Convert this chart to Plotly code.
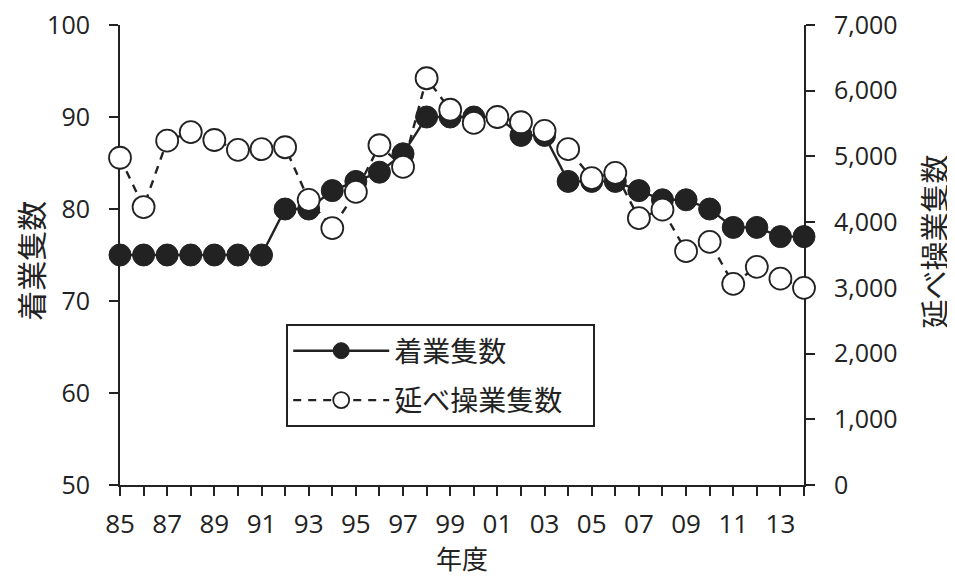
import plotly.graph_objects as go

years = list(range(1985, 2015))
tick_labels = [f"{y % 100:02d}" if (y - 1985) % 2 == 0 else "" for y in years]
operating_vessels = [75, 75, 75, 75, 75, 75, 75, 80, 80, 82, 83, 84, 86, 90, 90,
                     90, 90, 88, 88, 83, 83, 83, 82, 81, 81, 80, 78, 78, 77, 77]
total_operating = [4980, 4230, 5240, 5370, 5250, 5100, 5110, 5140, 4340, 3910,
                   4460, 5170, 4840, 6190, 5710, 5510, 5600, 5520, 5390, 5110,
                   4670, 4750, 4060, 4190, 3560, 3700, 3060, 3320, 3140, 3000]

INK = "#222222"
NUM_FONT = "Open Sans"
JP_FONT = "Noto Sans CJK JP"
PAD = "\u00a0\u00a0\u00a0\u00a0"

fig = go.Figure()
fig.add_trace(go.Scatter(
    x=years, y=operating_vessels, name="着業隻数", mode="lines+markers",
    line=dict(color=INK, width=2.4),
    marker=dict(size=22, color=INK, line=dict(color=INK, width=1)),
    cliponaxis=False, legendgroup="a",
))
fig.add_trace(go.Scatter(
    x=years, y=total_operating, name="延べ操業隻数" + PAD, mode="lines+markers",
    yaxis="y2",
    line=dict(color=INK, width=2.4, dash="8px,7px"),
    marker=dict(size=22, color="white", line=dict(color=INK, width=1.8)),
    cliponaxis=False, legendgroup="b",
))

axis_common = dict(
    showline=True, linecolor=INK, linewidth=2, ticks="outside", ticklen=9,
    tickwidth=2, tickcolor=INK, showgrid=False, zeroline=False,
    layer="below traces", automargin=False, ticklabeloverflow="allow",
)

# the page body adds an 8px margin; the sizes below compensate for it
fig.update_layout(
    width=947, height=569,
    margin=dict(l=112, r=151, t=17, b=92),
    paper_bgcolor="white", plot_bgcolor="white",
    font=dict(family=NUM_FONT, color=INK),
    xaxis=dict(
        range=[1985, 2014], tickmode="array", tickvals=years, ticktext=tick_labels,
        tickfont=dict(size=26, family=NUM_FONT), ticklabelstandoff=6,
        **axis_common,
    ),
    yaxis=dict(
        range=[50, 100], tickmode="linear", tick0=50, dtick=10,
        tickfont=dict(size=25, family=NUM_FONT), ticklabelstandoff=14,
        **axis_common,
    ),
    yaxis2=dict(
        range=[0, 7000], tickmode="linear", tick0=0, dtick=1000,
        tickformat=",", overlaying="y", side="right",
        tickfont=dict(size=25, family=NUM_FONT), ticklabelstandoff=14,
        **axis_common,
    ),
    legend=dict(
        x=0.243, y=0.35, xanchor="left", yanchor="top",
        bordercolor=INK, borderwidth=2, bgcolor="white",
        font=dict(size=28, family=JP_FONT, color=INK),
        itemwidth=96, tracegroupgap=10,
    ),
    showlegend=True,
    annotations=[
        dict(text="着業隻数", xref="paper", yref="paper", x=-0.132, y=0.487,
             xanchor="center", yanchor="middle",
             showarrow=False, textangle=-90, font=dict(size=30, family=JP_FONT, color=INK)),
        dict(text="延べ操業隻数", xref="paper", yref="paper", x=1.189, y=0.53,
             xanchor="center", yanchor="middle",
             showarrow=False, textangle=-90, font=dict(size=29, family=JP_FONT, color=INK)),
        dict(text="年度", xref="paper", yref="paper", x=0.5, y=-0.157,
             xanchor="center", yanchor="middle",
             showarrow=False, font=dict(size=26, family=JP_FONT, color=INK)),
    ],
)

fig.write_html("out.html")
